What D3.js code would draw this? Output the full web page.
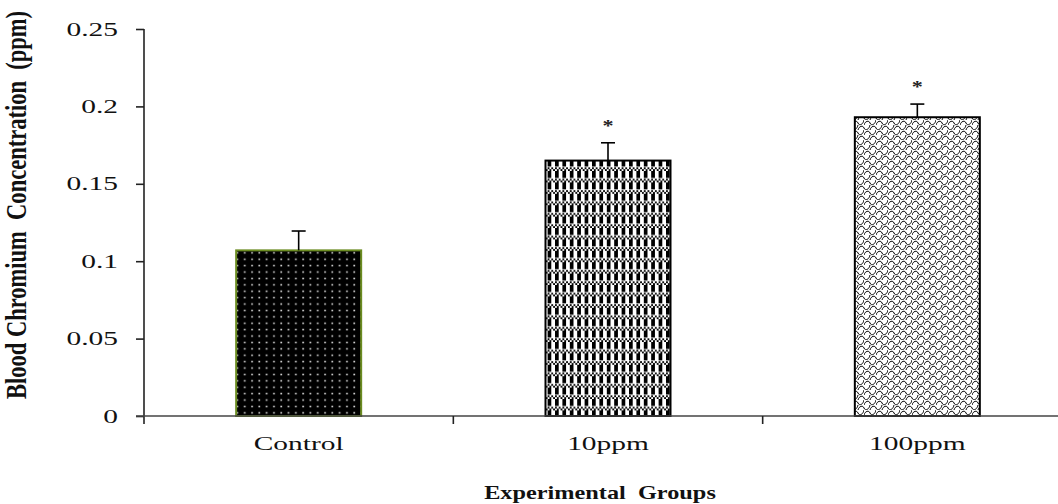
<!DOCTYPE html>
<html><head><meta charset="utf-8">
<script src="https://cdn.jsdelivr.net/npm/d3@7"></script>
<style>body{margin:0;background:#fff;} text{font-family:"Liberation Serif","Times New Roman",serif;}</style>
</head><body>
<svg id="c" width="1058" height="504"></svg>
<script>
const categories = ["Control", "10ppm", "100ppm"];
const means = [0.107, 0.165, 0.193];
const errors = [0.0125, 0.0115, 0.0085];
const signif = ["", "*", "*"];
const yTicks = [0, 0.05, 0.1, 0.15, 0.2, 0.25];
const yTickLabels = ["0", "0.05", "0.1", "0.15", "0.2", "0.25"];
const xTitle = "Experimental\u00a0\u00a0Groups";
const yTitle = "Blood Chromium\u00a0\u00a0Concentration\u00a0\u00a0(ppm)";

(function(){
const SX = 1.55; // horizontal stretch of text seen in the reference
const svg = d3.select("#c");
const mLeft = 144, mRight = 1072, mTop = 29, mBottom = 416;

const x = d3.scaleBand().domain(categories).range([mLeft, mRight]).paddingInner(0).paddingOuter(0);
const y = d3.scaleLinear().domain([0, 0.25]).range([mBottom, mTop]);

const defs = svg.append("defs");
const p1 = defs.append("pattern").attr("id","pDots").attr("patternUnits","userSpaceOnUse")
  .attr("width",7.3).attr("height",6.4);
p1.append("rect").attr("width",7.3).attr("height",6.4).attr("fill","#000");
p1.append("rect").attr("x",3).attr("y",2.5).attr("width",1.7).attr("height",1.5).attr("fill","#dcdcdc");

const p2 = defs.append("pattern").attr("id","pCheck").attr("patternUnits","userSpaceOnUse")
  .attr("width",7.4).attr("height",11.4);
p2.append("rect").attr("width",7.4).attr("height",11.4).attr("fill","#fff");
p2.append("rect").attr("x",0).attr("y",0).attr("width",3.7).attr("height",7).attr("fill","#000");
for (let i = 0; i < 4; i++) {
  for (let j = 0; j < 2; j++) {
    if ((i + j) % 2 === 0) p2.append("rect").attr("x", i*1.85).attr("y", 7.8 + j*1.8).attr("width",1.85).attr("height",1.8).attr("fill","#000");
  }
}

const p3 = defs.append("pattern").attr("id","pWave").attr("patternUnits","userSpaceOnUse")
  .attr("width",12).attr("height",10);
p3.append("rect").attr("width",12).attr("height",10).attr("fill","#fff");
p3.append("path").attr("d","M0,5 C1,1 5,0 6,3 C7,6 11,5 12,0 M-6,10 C-5,6 -1,5 0,8 C1,11 5,10 6,5 M6,10 C7,6 11,5 12,8 C13,11 17,10 18,5")
  .attr("fill","none").attr("stroke","#000").attr("stroke-width",1);

const fills = ["url(#pDots)", "url(#pCheck)", "url(#pWave)"];
const strokes = ["#6b8c21", "#000", "#000"];
const barW = 125;
const cx = d => x(d) + x.bandwidth()/2;

const g = svg.append("g");
g.selectAll("rect.bar").data(categories).join("rect").attr("class","bar")
  .attr("x", d => cx(d) - barW/2)
  .attr("y", (d,i) => y(means[i]))
  .attr("width", barW)
  .attr("height", (d,i) => y(0) - y(means[i]))
  .attr("fill", (d,i) => fills[i])
  .attr("stroke", (d,i) => strokes[i]).attr("stroke-width", 2);

g.selectAll("line.err").data(categories).join("line").attr("class","err")
  .attr("x1", cx).attr("x2", cx)
  .attr("y1", (d,i) => y(means[i])).attr("y2", (d,i) => y(means[i] + errors[i]))
  .attr("stroke","#000").attr("stroke-width",1.6);
g.selectAll("line.cap").data(categories).join("line").attr("class","cap")
  .attr("x1", d => cx(d) - 7).attr("x2", d => cx(d) + 7)
  .attr("y1", (d,i) => y(means[i] + errors[i])).attr("y2", (d,i) => y(means[i] + errors[i]))
  .attr("stroke","#000").attr("stroke-width",1.6);
g.selectAll("text.sig").data(categories).join("text").attr("class","sig")
  .attr("transform", (d,i) => `translate(${cx(d)},${y(means[i] + errors[i]) - 12}) scale(1.3,1)`)
  .attr("text-anchor","middle").attr("font-size",17).attr("font-weight","bold").attr("fill","#222")
  .text((d,i) => signif[i]);

const yAxis = d3.axisLeft(y).tickValues(yTicks).tickFormat((d,i) => yTickLabels[i]).tickSize(8).tickSizeOuter(0);
const ya = svg.append("g").attr("transform",`translate(${mLeft},0)`).call(yAxis);
ya.select(".domain").attr("stroke","#222").attr("stroke-width",1.6).attr("d", `M0,${mTop}V${mBottom+8}`);
ya.selectAll(".tick line").attr("stroke","#222").attr("stroke-width",1.6);
ya.selectAll(".tick text").attr("font-size",19).attr("fill","#111")
  .attr("font-family","'Liberation Serif',serif")
  .attr("x", -26 / SX).attr("transform", `scale(${SX},1)`);

const xa = svg.append("g");
xa.append("line").attr("x1", mLeft - 8).attr("x2", mRight).attr("y1", mBottom).attr("y2", mBottom)
  .attr("stroke","#444").attr("stroke-width",1.6);
xa.selectAll("line.xt").data(categories.slice(1)).join("line").attr("class","xt")
  .attr("x1", d => x(d)).attr("x2", d => x(d)).attr("y1", mBottom).attr("y2", mBottom + 8)
  .attr("stroke","#222").attr("stroke-width",1.6);
xa.selectAll("text.xl").data(categories).join("text").attr("class","xl")
  .attr("transform", d => `translate(${cx(d)},${mBottom + 34}) scale(${SX},1)`)
  .attr("text-anchor","middle").attr("font-size",19).attr("fill","#111").text(d => d);

svg.append("text").attr("transform", `translate(600,${mBottom + 83}) scale(1.35,1)`)
  .attr("text-anchor","middle").attr("font-size",18).attr("font-weight","bold").attr("fill","#111").text(xTitle);
svg.append("text").attr("transform", `translate(26,205) scale(1.3,1) rotate(-90)`)
  .attr("text-anchor","middle").attr("font-size",22).attr("font-weight","bold").attr("fill","#111")
  .attr("textLength", 388).attr("lengthAdjust","spacingAndGlyphs").text(yTitle);
})();
</script>
</body></html>
